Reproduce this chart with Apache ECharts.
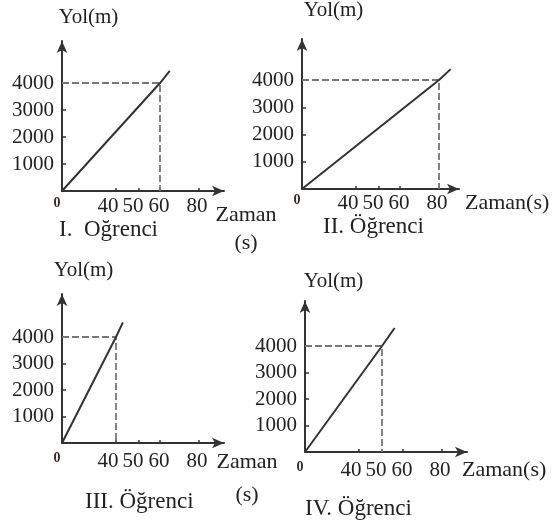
<!DOCTYPE html>
<html>
<head>
<meta charset="utf-8">
<script src="https://cdn.jsdelivr.net/npm/echarts@6.0.0/dist/echarts.min.js"></script>
<style>
html, body { margin: 0; padding: 0; background: #fff; }
#chart { width: 560px; height: 529px; }
</style>
</head>
<body>
<div id="chart"></div>
<script>
var students = ['I.  Oğrenci', 'II. Öğrenci', 'III. Öğrenci', 'IV. Öğrenci']
var timeTicks = [0, 40, 50, 60, 80]
var distanceTicks = [1000, 2000, 3000, 4000]
var arrivalTime = [60, 80, 40, 50]
var arrivalDistance = [4000, 4000, 4000, 4000]
var lineEndTime = [65, 86, 43, 56]
var lineEndDistance = [4450, 4400, 4550, 4680]
var xNames = ['Zaman\n(s)', 'Zaman(s)', 'Zaman\n(s)', 'Zaman(s)']
var yName = 'Yol(m)'

// the sketch's time axis is not linear: where each tick mark was drawn,
// and where its number was written (a little off the mark)
var drawnTicks = [0, 54, 77, 98, 137]
var drawnLabels = [0, 46, 71, 97, 135]

var boxes = [
    {left: 62, top: 41, width: 162, height: 150, yMax: 5556, labelMargin: 5,
     xNameGap: 22, xAlign: 'center', xLineHeight: 28, xPad: 10, yNameGap: 13.5, yPad: 53,
     titleLeft: 59, titleTop: 218},
    {left: 302, top: 39, width: 157, height: 150, yMax: 5505, labelMargin: 4,
     xNameGap: 6, xAlign: 'left', xLineHeight: 21, xPad: 4, yNameGap: 18.5, yPad: 63,
     titleLeft: 323, titleTop: 215},
    {left: 62, top: 294, width: 162, height: 149, yMax: 5623, labelMargin: 8,
     xNameGap: 23, xAlign: 'center', xLineHeight: 33, xPad: 2.5, yNameGap: 13.5, yPad: 43,
     titleLeft: 85, titleTop: 490},
    {left: 305, top: 301, width: 162, height: 151, yMax: 5698, labelMargin: 8,
     xNameGap: -5, xAlign: 'left', xLineHeight: 21, xPad: 7.5, yNameGap: 9.5, yPad: 57,
     titleLeft: 305, titleTop: 497}
]

var font = 'Liberation Serif'
var ink = '#222'

function warp(t) {
    var i = 0
    while (i < timeTicks.length - 2 && t > timeTicks[i + 1]) {
        i++
    }
    var k = (drawnTicks[i + 1] - drawnTicks[i]) / (timeTicks[i + 1] - timeTicks[i])
    return drawnTicks[i] + (t - timeTicks[i]) * k
}

function timeLabel(v) {
    for (var i in drawnLabels) {
        if (Math.abs(drawnLabels[i] - v) < 0.01) {
            if (timeTicks[i] == 0) {
                return '{z|0}'
            }
            return String(timeTicks[i])
        }
    }
    return ''
}

var grids = [], xAxes = [], yAxes = [], series = [], titles = []

for (var n = 0; n < boxes.length; n++) {
    var b = boxes[n]
    grids.push({left: b.left, top: b.top, width: b.width, height: b.height,
        containLabel: false, outerBoundsMode: 'none'})

    xAxes.push({
        type: 'value', gridIndex: n, min: 0, max: b.width,
        name: xNames[n], nameLocation: 'end', nameGap: b.xNameGap, nameMoveOverlap: false,
        nameTextStyle: {fontFamily: font, fontSize: 22, color: ink, align: b.xAlign,
            verticalAlign: 'top', lineHeight: b.xLineHeight, padding: [b.xPad, 0, 0, 0]},
        axisLine: {symbol: ['none', 'arrow'], symbolSize: [8, 12],
            lineStyle: {color: '#333', width: 2}},
        axisTick: {show: true, inside: true, length: 3, customValues: timeTicks.slice(1).map(warp),
            lineStyle: {color: '#333', width: 1.5}},
        axisLabel: {customValues: drawnLabels, formatter: timeLabel, margin: b.labelMargin,
            fontFamily: font, fontSize: 21, color: ink, showMinLabel: true,
            rich: {z: {fontFamily: font, fontSize: 14, fontWeight: 'bold', color: '#3a3020',
                padding: [0, 10, 0, 0]}}},
        splitLine: {show: false}
    })

    yAxes.push({
        type: 'value', gridIndex: n, min: 0, max: b.yMax,
        name: yName, nameLocation: 'end', nameGap: b.yNameGap, nameMoveOverlap: false,
        nameTextStyle: {fontFamily: font, fontSize: 21, color: ink, align: 'center',
            padding: [0, 0, 0, b.yPad]},
        axisLine: {symbol: ['none', 'arrow'], symbolSize: [8, 12],
            lineStyle: {color: '#333', width: 2}},
        axisTick: {show: true, inside: true, length: 4, customValues: distanceTicks.slice(0, 3),
            lineStyle: {color: '#333', width: 1.5}},
        axisLabel: {customValues: distanceTicks, margin: 8,
            formatter: function (v) { return String(v) },
            fontFamily: font, fontSize: 21, color: ink},
        splitLine: {show: false}
    })

    var tx = warp(arrivalTime[n])
    series.push({
        type: 'line', xAxisIndex: n, yAxisIndex: n, symbol: 'none', silent: true, z: 2,
        lineStyle: {color: '#777', width: 1.8, type: [7, 3]},
        data: [[0, arrivalDistance[n]], [tx, arrivalDistance[n]], [tx, 0]]
    })
    series.push({
        type: 'line', xAxisIndex: n, yAxisIndex: n, symbol: 'none', silent: true, z: 3,
        lineStyle: {color: '#333', width: 2},
        data: [[0, 0], [tx, arrivalDistance[n]], [warp(lineEndTime[n]), lineEndDistance[n]]]
    })

    titles.push({text: students[n], left: b.titleLeft, top: b.titleTop, padding: 0,
        textStyle: {fontFamily: font, fontSize: 23, fontWeight: 'normal', color: ink}})
}

var chart = echarts.init(document.getElementById('chart'))
var option = {
    animation: false,
    backgroundColor: '#fff',
    title: titles,
    grid: grids,
    xAxis: xAxes,
    yAxis: yAxes,
    series: series
}
chart.setOption(option)
</script>
</body>
</html>
